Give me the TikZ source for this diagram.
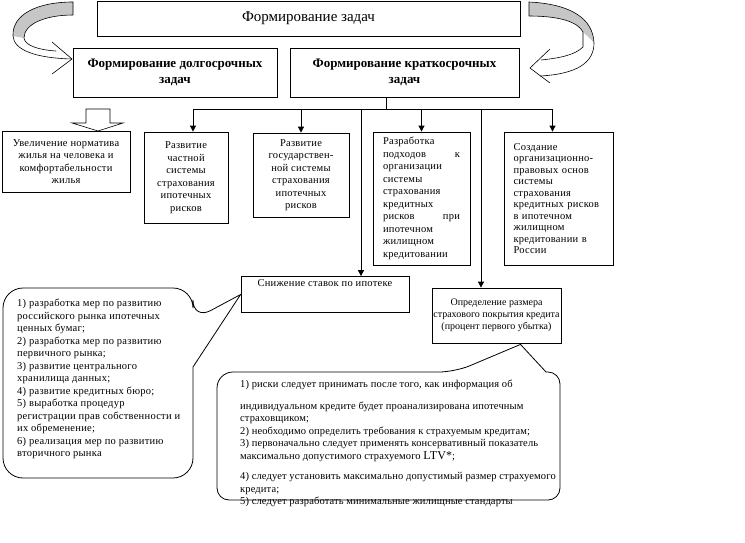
\documentclass[tikz,border=0pt]{standalone}
\usepackage{fontspec}
\setmainfont{Liberation Serif}
\usepackage{tikz}
\usetikzlibrary{positioning}
\usetikzlibrary{arrows.meta}
\usetikzlibrary{calc}

\newcommand{\wordfont}[3][2.5]{\fontsize{#2}{#3}\selectfont\addfontfeature{LetterSpace=#1}}

\begin{document}
\begin{tikzpicture}[
  x=1pt, y=-1pt,
  box/.style={
    rectangle,
    draw=black,
    line width=0.8pt,
    align=center,
    inner sep=2pt,
    font=\wordfont{10.5}{12.5}
  },
  head/.style={
    box,
    font=\fontsize{13}{16}\selectfont\bfseries
  },
  note/.style={
    inner sep=0pt,
    align=left,
    anchor=north west,
    font=\wordfont{10.5}{12.5}
  },
  arr/.style={-{Triangle[width=6pt,length=6pt]}, line width=0.8pt},
  bubble/.style={draw=black, line width=0.8pt},
  band/.style={draw=black, line width=0.6pt}
]
\useasboundingbox (0,0) rectangle (745,542);

\node[box, minimum width=423, minimum height=35, font=\fontsize{15}{18}\selectfont] (title) at (308.5,18.5) {Формирование задач};
\node[head, minimum width=204, minimum height=49] (dolg) at (175,72.5) {Формирование долгосрочных\\задач};
\node[head, minimum width=229, minimum height=49] (krat) at (404.5,72.5) {Формирование краткосрочных\\задач};

\node[box, minimum width=128, minimum height=61] (uvel) at (66,161.5) {Увеличение норматива\\жилья на человека и\\комфортабельности\\жилья};
\node[box, minimum width=84, minimum height=91] (chast) at (186,177.5) {Развитие\\частной\\системы\\страхования\\ипотечных\\рисков};
\node[box, minimum width=96, minimum height=84] (gos) at (301,175) {Развитие\\государствен-\\ной системы\\страхования\\ипотечных\\рисков};
\node[box, minimum width=97, minimum height=133, text width=77, align=left] (razr) at (421.5,198.5) {Разработка\\подходов\hfill к\\организации\\системы\\страхования\\кредитных\\рисков\hfill при\\ипотечном\\жилищном\\кредитовании};
\node[box, minimum width=109, minimum height=133, text width=90, align=left, font={\wordfont{10.5}{11.5}}] (sozd) at (558.5,198.5) {Создание\\организационно-\\правовых основ\\системы\\страхования\\кредитных рисков\\в ипотечном\\жилищном\\кредитовании в\\России};

\node[box, minimum width=168, text height=8, text depth=24] (snizh) at (325,294.5) {Снижение ставок по ипотеке};
\node[box, minimum width=129, minimum height=55, inner sep=1pt, font={\wordfont[0]{10}{12}}] (opred) at (496.5,315.5) {Определение размера\\страхового покрытия кредита\\(процент первого убытка)};

% links from the short-term box
\coordinate (bus) at (386,109);
\coordinate (drop1) at (361,109);
\coordinate (drop2) at (481,109);
\draw[line width=0.8pt] (bus |- krat.south) -- (bus);
\draw[arr] (bus) -| ($(chast.north)+(7,0)$);
\draw[arr] (bus) -| (gos.north);
\draw[arr] (bus) -| (razr.north);
\draw[arr] (bus) -| ($(sozd.north)+(-6,0)$);
\draw[arr] (drop1) -- (drop1 |- snizh.north);
\draw[arr] (drop2) -- (drop2 |- opred.north);

% hollow arrow
\draw[band] (86,109) -- (110,109) -- (110,123) -- (123,123) -- (98,131) -- (72,123) -- (86,123) -- cycle;

% curved arrows
\fill[gray!45] (73,2) .. controls (38,2) and (12,14) .. (13,36) -- (24,38) .. controls (24,24) and (45,15) .. (73,15) -- cycle;
\draw[band] (73,15) -- (73,2) .. controls (38,2) and (12,14) .. (13,36) .. controls (14,50) and (35,58) .. (72,59);
\draw[band] (73,15) .. controls (45,15) and (24,24) .. (24,38) .. controls (25,46) and (40,50) .. (56,51);
\draw[band] (52,42) -- (72,59) -- (52,74);

\fill[gray!45] (529,2) .. controls (570,4) and (593,18) .. (594,43) .. controls (590,38) and (586,35) .. (583,32) .. controls (578,22) and (560,16) .. (529,16) -- cycle;
\draw[band] (529,16) -- (529,2) .. controls (570,4) and (593,18) .. (594,43) .. controls (594,62) and (578,74) .. (540,76);
\draw[band] (529,16) .. controls (560,16) and (578,22) .. (583,32) -- (583,47) .. controls (575,55) and (560,58) .. (541,60);
\draw[band] (550,49) -- (530,68) -- (550,83);

% callouts
\draw[bubble] (3,380) [rounded corners=20] -- (3,288) -- (193,288) -- (193,320) [sharp corners] -- (snizh.west) -- (193,367) -- (193,400) [rounded corners=20] -- (193,478) -- (3,478) -- cycle;
\node[note] (lnote) at (17,299) {1) разработка мер по развитию\\российского рынка ипотечных\\ценных бумаг;\\2) разработка мер по развитию\\первичного рынка;\\3) развитие центрального\\хранилища данных;\\4) развитие кредитных бюро;\\5) выработка процедур\\регистрации прав собственности и\\их обременение;\\6) реализация мер по развитию\\вторичного рынка};

\coordinate (tipR) at ($(opred.south)+(24,1)$);
\draw[bubble] (217,440) [rounded corners=16] -- (217,372) -- (455,372) [sharp corners] -- (tipR) -- (546,372) -- (548,372) [rounded corners=12] -- (560,372) -- (560,500) -- (217,500) -- cycle;
\node[note, font={\wordfont[1.2]{10.5}{12.5}}] (rnote) at (240,380) {1) риски следует принимать после того, как информация об\\[9pt]индивидуальном кредите будет проанализирована ипотечным\\страховщиком;\\2) необходимо определить требования к страхуемым кредитам;\\3) первоначально следует применять консервативный показатель\\максимально допустимого страхуемого {\fontsize{12}{12}\selectfont LTV*};\\[8pt]4) следует установить максимально допустимый размер страхуемого\\кредита;\\5) следует разработать минимальные жилищные стандарты};
\end{tikzpicture}
\end{document}
